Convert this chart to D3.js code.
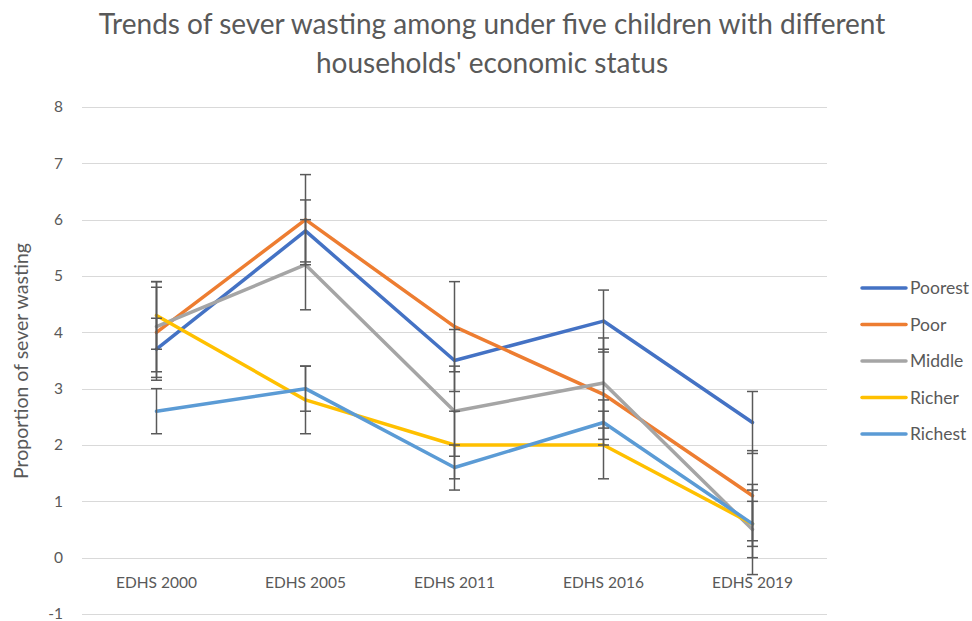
<!DOCTYPE html>
<html>
<head>
<meta charset="utf-8">
<script src="https://cdn.jsdelivr.net/npm/d3@7"></script>
<style>
  body { margin: 0; background: #fff; }
  svg { display: block; }
</style>
</head>
<body>
<div id="chart"></div>
<script>
// survey rounds on the x axis
const surveys = ["EDHS 2000", "EDHS 2005", "EDHS 2011", "EDHS 2016", "EDHS 2019"];

// wealth quintiles and their values
const groups = ["Poorest", "Poor", "Middle", "Richer", "Richest"];
const poorest = [3.7, 5.8, 3.5, 4.2, 2.4];
const poor = [4.0, 6.0, 4.1, 2.9, 1.1];
const middle = [4.1, 5.2, 2.6, 3.1, 0.5];
const richer = [4.3, 2.8, 2.0, 2.0, 0.6];
const richest = [2.6, 3.0, 1.6, 2.4, 0.6];

// +/- error amount per series
const errors = [0.55, 0.8, 0.8, 0.6, 0.4];

const yTicks = [-1, 0, 1, 2, 3, 4, 5, 6, 7, 8];
const colors = ["#4472C4", "#ED7D31", "#A5A5A5", "#FFC000", "#5B9BD5"];

function main(container) {
  const sel = d3.select(container);
  const width = 972;
  const height = 621;
  const font = "Lato, 'Open Sans', sans-serif";

  const series = [poorest, poor, middle, richer, richest].map((vals, i) => ({
    name: groups[i],
    color: colors[i],
    err: errors[i],
    values: vals.map((v, j) => ({ cat: surveys[j], v: v })),
  }));

  const svg = sel.append("svg").attr("width", width).attr("height", height);

  const plot = { left: 82, right: 827, top: 107, bottom: 614 };

  const x = d3.scaleBand().domain(surveys).range([plot.left, plot.right]);
  const y = d3.scaleLinear().domain([-1, 8]).range([plot.bottom, plot.top]);
  const cx = (c) => x(c) + x.bandwidth() / 2;

  // gridlines
  svg
    .append("g")
    .selectAll("line")
    .data(yTicks)
    .enter()
    .append("line")
    .attr("x1", plot.left)
    .attr("x2", plot.right)
    .attr("y1", (d) => Math.round(y(d)) + 0.5)
    .attr("y2", (d) => Math.round(y(d)) + 0.5)
    .attr("stroke", "#d9d9d9")
    .attr("stroke-width", 1);

  // y tick labels
  svg
    .append("g")
    .selectAll("text")
    .data(yTicks)
    .enter()
    .append("text")
    .attr("x", 63)
    .attr("y", (d) => y(d))
    .attr("dy", "0.35em")
    .attr("text-anchor", "end")
    .attr("font-family", font)
    .attr("font-size", "15.5px")
    .attr("fill", "#595959")
    .text((d) => d);

  // x category labels
  svg
    .append("g")
    .selectAll("text")
    .data(surveys)
    .enter()
    .append("text")
    .attr("x", (d) => cx(d))
    .attr("y", 583)
    .attr("dy", "0.35em")
    .attr("text-anchor", "middle")
    .attr("font-family", font)
    .attr("font-size", "15.5px")
    .attr("fill", "#595959")
    .text((d) => d);

  // lines
  const line = d3
    .line()
    .x((d) => cx(d.cat))
    .y((d) => y(d.v));

  svg
    .append("g")
    .selectAll("path")
    .data(series)
    .enter()
    .append("path")
    .attr("d", (s) => line(s.values))
    .attr("fill", "none")
    .attr("stroke", (s) => s.color)
    .attr("stroke-width", 3.5)
    .attr("stroke-linejoin", "round")
    .attr("stroke-linecap", "round");

  // error bars (drawn above the lines, like Excel)
  const bars = [];
  series.forEach((s) => {
    s.values.forEach((d) => {
      bars.push({ x: cx(d.cat), lo: d.v - s.err, hi: d.v + s.err });
    });
  });

  const eb = svg.append("g").attr("stroke", "#595959").attr("stroke-width", 1.5);
  bars.forEach((b) => {
    eb.append("line")
      .attr("x1", b.x).attr("x2", b.x)
      .attr("y1", y(b.lo)).attr("y2", y(b.hi));
    [b.lo, b.hi].forEach((v) => {
      eb.append("line")
        .attr("x1", b.x - 5.5).attr("x2", b.x + 5.5)
        .attr("y1", y(v)).attr("y2", y(v));
    });
  });

  // title
  svg
    .append("text")
    .attr("x", 492)
    .attr("text-anchor", "middle")
    .attr("font-family", font)
    .attr("font-size", "28px")
    .attr("fill", "#595959")
    .selectAll("tspan")
    .data([
      "Trends of sever wasting among under five children with different",
      "households' economic status",
    ])
    .enter()
    .append("tspan")
    .attr("x", 492)
    .attr("y", (d, i) => 34 + i * 39)
    .text((d) => d);

  // y axis title
  svg
    .append("text")
    .attr("transform", "translate(28,361) rotate(-90)")
    .attr("text-anchor", "middle")
    .attr("font-family", font)
    .attr("font-size", "19.5px")
    .attr("fill", "#595959")
    .text("Proportion of sever wasting");

  // legend
  const legend = svg
    .append("g")
    .selectAll("g")
    .data(series)
    .enter()
    .append("g")
    .attr("transform", (d, i) => `translate(862,${288 + i * 36.5})`);

  legend
    .append("line")
    .attr("x1", 0)
    .attr("x2", 44)
    .attr("stroke", (d) => d.color)
    .attr("stroke-width", 3.5)
    .attr("stroke-linecap", "round");

  legend
    .append("text")
    .attr("x", 48)
    .attr("dy", "0.35em")
    .attr("font-family", font)
    .attr("font-size", "17.5px")
    .attr("fill", "#595959")
    .text((d) => d.name);
}

main(document.getElementById("chart"));
</script>
</body>
</html>
